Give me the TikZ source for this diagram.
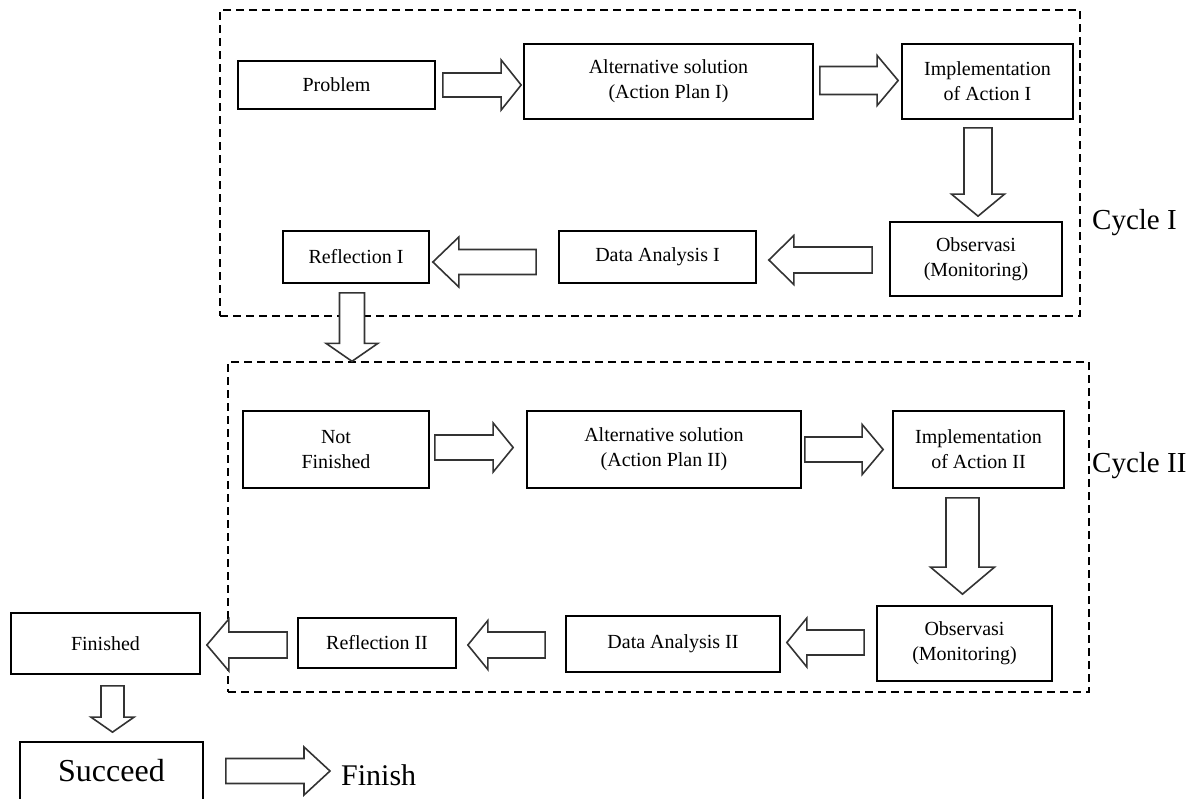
\documentclass[tikz,border=0pt]{standalone}
\usepackage{fontspec}
\setmainfont{Liberation Serif}
\usetikzlibrary{calc}
\newcommand{\boxfont}{\fontsize{20}{25}\selectfont}
\newcommand{\blockarrow}[5]{% from, tip, half shaft, half head, head length
  \draw[blockarr] let \p1=(#1), \p2=(#2), \n1={atan2(\y2-\y1,\x2-\x1)}, \n2={veclen(\x2-\x1,\y2-\y1)} in
    [shift={(\p1)}, rotate=\n1]
    (0pt,#3pt) -- ({\n2-#5pt},#3pt) -- ({\n2-#5pt},#4pt) -- ({\n2},0pt)
    -- ({\n2-#5pt},-#4pt) -- ({\n2-#5pt},-#3pt) -- (0pt,-#3pt) -- cycle;
}
\begin{document}
\begin{tikzpicture}[x=1pt,y=-1pt,line join=miter,
  stepbox/.style={draw,line width=1.7pt,align=center,inner sep=0pt,font=\boxfont},
  cycleframe/.style={draw,line width=1.4pt,dash pattern=on 8pt off 5pt,inner sep=0pt},
  blockarr/.style={draw=black!80,line width=1.6pt,fill=white},
  biglabel/.style={inner sep=0pt,font=\fontsize{29}{32}\selectfont}]
\useasboundingbox (0,0) rectangle (1202,798);
\clip (0,0) rectangle (1202,798);
%%
\node (frame_1) at (650,163) [cycleframe,minimum width=860pt,minimum height=306pt] {};
\node (frame_2) at (658.5,527) [cycleframe,minimum width=861pt,minimum height=330pt] {};
\node (cycle_1) at (1092,229) [biglabel,anchor=base west] {Cycle I};
\node (cycle_2) at (1092,472) [biglabel,anchor=base west] {Cycle II};
%% cycle I
\node (problem) at (336.5,85) [stepbox,minimum width=197pt,minimum height=48pt] {Problem};
\node (plan_1) at (668.5,81.5) [stepbox,minimum width=289pt,minimum height=75pt] {Alternative solution\\(Action Plan I)};
\node (impl_1) at (987.5,81.5) [stepbox,minimum width=171pt,minimum height=75pt] {Implementation\\of Action I};
\node (obs_1) at (976,259) [stepbox,minimum width=172pt,minimum height=74pt] {Observasi\\(Monitoring)};
\node (data_1) at (657.5,257) [stepbox,minimum width=197pt,minimum height=52pt] {Data Analysis I};
\node (refl_1) at (356,257) [stepbox,minimum width=146pt,minimum height=52pt] {Reflection I};
%% cycle II
\node (notfin) at (336,449.5) [stepbox,minimum width=186pt,minimum height=77pt] {Not\\Finished};
\node (plan_2) at (664,449.5) [stepbox,minimum width=274pt,minimum height=77pt] {Alternative solution\\(Action Plan II)};
\node (impl_2) at (978.5,449.5) [stepbox,minimum width=171pt,minimum height=77pt] {Implementation\\of Action II};
\node (obs_2) at (964.5,643.5) [stepbox,minimum width=175pt,minimum height=75pt] {Observasi\\(Monitoring)};
\node (data_2) at (673,644) [stepbox,minimum width=214pt,minimum height=56pt] {Data Analysis II};
\node (refl_2) at (377,643) [stepbox,minimum width=158pt,minimum height=50pt] {Reflection II};
%% end
\node (fin) at (105.5,643.5) [stepbox,minimum width=189pt,minimum height=61pt] {Finished};
\node (succ) at (111.5,771) [stepbox,minimum width=183pt,minimum height=58pt,font=\fontsize{32}{34}\selectfont] {Succeed};
\node (finish) at (341,785) [inner sep=0pt,anchor=base west,font=\fontsize{30}{32}\selectfont] {Finish};
%
\blockarrow{$(problem.east)+(7,0)$}{$(plan_1.west|-problem.east)+(-2,0)$}{12}{25}{20}
\blockarrow{$(plan_1.east)+(6,-1)$}{$(impl_1.west)+(-3,-1)$}{14}{25}{21}
\blockarrow{$(obs_1.north|-impl_1.south)+(2,8)$}{$(obs_1.north)+(2,-5)$}{14}{26.5}{22}
\blockarrow{$(obs_1.west)+(-17,1)$}{$(data_1.east|-obs_1.west)+(12,1)$}{13}{24.5}{25}
\blockarrow{$(data_1.west)+(-22,5)$}{$(refl_1.east)+(3,5)$}{12.5}{25}{26}
\blockarrow{$(refl_1.south)+(-4,9)$}{$(refl_1.south|-frame_2.north)+(-4,0)$}{12.5}{26}{18}
\blockarrow{$(notfin.east)+(5,-2)$}{$(plan_2.west)+(-13,-2)$}{12.5}{24.5}{20}
\blockarrow{$(plan_2.east)+(3,0)$}{$(impl_2.west)+(-9,0)$}{12.5}{25}{21}
\blockarrow{$(obs_2.north|-impl_2.south)+(-2,9)$}{$(obs_2.north)+(-2,-11)$}{16.5}{32}{27}
\blockarrow{$(obs_2.west)+(-12,-1)$}{$(data_2.east|-obs_2.west)+(6,-1)$}{12.5}{24.5}{20}
\blockarrow{$(data_2.west)+(-20,1)$}{$(refl_2.east|-data_2.west)+(11,1)$}{13}{24.5}{20}
\blockarrow{$(refl_2.west)+(-10,2)$}{$(fin.east|-refl_2.west)+(6,2)$}{13}{26}{22}
\blockarrow{$(fin.south)+(7,11)$}{$(fin.south|-succ.north)+(7,-9)$}{11.5}{21.5}{15}
\blockarrow{$(succ.east)+(22,0)$}{$(succ.east-|finish.west)+(-11,0)$}{12.5}{24}{26}
%
\end{tikzpicture}
\end{document}
